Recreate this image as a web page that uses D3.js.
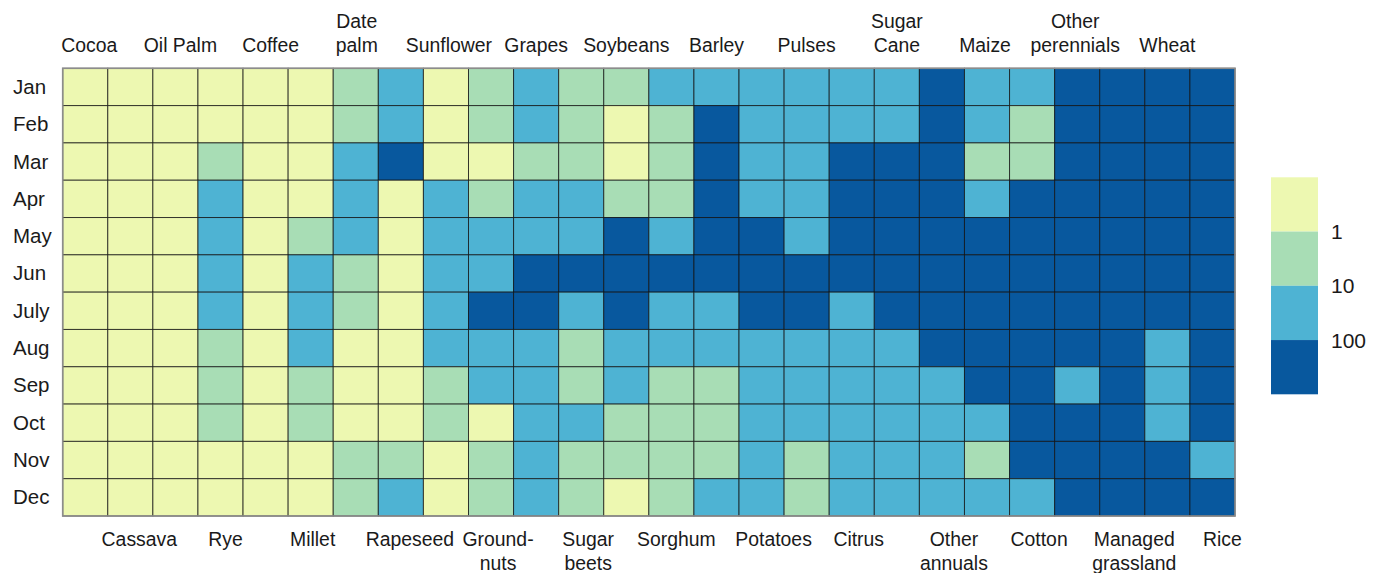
<!DOCTYPE html>
<html>
<head>
<meta charset="utf-8">
<script src="https://cdn.jsdelivr.net/npm/d3@7"></script>
<style>
  html, body { margin: 0; padding: 0; background: #fff; }
  svg { display: block; font-family: "Liberation Sans", Helvetica, Arial, sans-serif; }
</style>
</head>
<body>
<svg id="chart" width="1389" height="573"></svg>
<script>
// Month rows and crop columns of the heatmap
const months = ["Jan", "Feb", "Mar", "Apr", "May", "Jun", "July", "Aug", "Sep", "Oct", "Nov", "Dec"];
const crops = ["Cocoa", "Cassava", "Oil Palm", "Rye", "Coffee", "Millet", "Date palm", "Rapeseed",
  "Sunflower", "Ground-nuts", "Grapes", "Sugar beets", "Soybeans", "Sorghum", "Barley", "Potatoes",
  "Pulses", "Citrus", "Sugar Cane", "Other annuals", "Maize", "Cotton", "Other perennials",
  "Managed grassland", "Wheat", "Rice"];

// Class per crop for each month: 0 = below 1, 1 = 1–10, 2 = 10–100, 3 = above 100
const jan = [0,0,0,0,0,0,1,2,0, 1,2,1,1,2,2,2,2, 2,2,3,2,2,3,3,3,3];
const feb = [0,0,0,0,0,0,1,2,0, 1,2,1,0,1,3,2,2, 2,2,3,2,1,3,3,3,3];
const mar = [0,0,0,1,0,0,2,3,0, 0,1,1,0,1,3,2,2, 3,3,3,1,1,3,3,3,3];
const apr = [0,0,0,2,0,0,2,0,2, 1,2,2,1,1,3,2,2, 3,3,3,2,3,3,3,3,3];
const may = [0,0,0,2,0,1,2,0,2, 2,2,2,3,2,3,3,2, 3,3,3,3,3,3,3,3,3];
const jun = [0,0,0,2,0,2,1,0,2, 2,3,3,3,3,3,3,3, 3,3,3,3,3,3,3,3,3];
const jul = [0,0,0,2,0,2,1,0,2, 3,3,2,3,2,2,3,3, 2,3,3,3,3,3,3,3,3];
const aug = [0,0,0,1,0,2,0,0,2, 2,2,1,2,2,2,2,2, 2,2,3,3,3,3,3,2,3];
const sep = [0,0,0,1,0,1,0,0,1, 2,2,1,2,1,1,2,2, 2,2,2,3,3,2,3,2,3];
const oct = [0,0,0,1,0,1,0,0,1, 0,2,2,1,1,1,2,2, 2,2,2,2,3,3,3,2,3];
const nov = [0,0,0,0,0,0,1,1,0, 1,2,1,1,1,1,2,1, 2,2,2,1,3,3,3,3,2];
const dec = [0,0,0,0,0,0,1,2,0, 1,2,1,0,1,2,2,1, 2,2,2,2,2,3,3,3,3];

// Legend tick labels at the class boundaries
const legendTicks = ["1", "10", "100"];
const classColors = ["#edf8b1", "#a8ddb5", "#4eb3d3", "#08589e"];

const rows = [jan, feb, mar, apr, may, jun, jul, aug, sep, oct, nov, dec];
const cells = [];
rows.forEach((row, i) => row.forEach((v, j) => cells.push({ month: months[i], crop: crops[j], cls: v, col: j })));

const svg = d3.select("#chart");
const x = d3.scaleBand().domain(crops).range([62.7, 1235]);
const y = d3.scaleBand().domain(months).range([68.3, 516]);
const color = d3.scaleOrdinal().domain([0, 1, 2, 3]).range(classColors);

// Cells
svg.append("g").selectAll("rect").data(cells).join("rect")
  .attr("x", d => x(d.crop))
  .attr("y", d => y(d.month))
  .attr("width", x.bandwidth())
  .attr("height", y.bandwidth())
  .attr("fill", d => color(d.cls))
  .attr("stroke", "#111")
  .attr("stroke-opacity", 0.75)
  .attr("stroke-width", 1);

// Outer frame
svg.append("rect")
  .attr("x", x.range()[0]).attr("y", y.range()[0])
  .attr("width", x.range()[1] - x.range()[0])
  .attr("height", y.range()[1] - y.range()[0])
  .attr("fill", "none").attr("stroke", "#8c8c8c").attr("stroke-width", 1.6);

// Month labels
svg.append("g").selectAll("text").data(months).join("text")
  .attr("x", 13)
  .attr("y", d => y(d) + y.bandwidth() / 2 + 7)
  .attr("font-size", 20.5)
  .attr("fill", "#1a1a1a")
  .text(d => d);

// Crop labels alternate between top (even columns) and bottom (odd columns)
const splitLines = {
  "Date palm": ["Date", "palm"],
  "Sugar Cane": ["Sugar", "Cane"],
  "Other perennials": ["Other", "perennials"],
  "Ground-nuts": ["Ground-", "nuts"],
  "Sugar beets": ["Sugar", "beets"],
  "Other annuals": ["Other", "annuals"],
  "Managed grassland": ["Managed", "grassland"]
};
const nudge = {
  "Cocoa": 4, "Oil Palm": 5, "Coffee": 5, "Date palm": 1, "Sunflower": 3,
  "Cassava": 9, "Rye": 5, "Millet": 2, "Rapeseed": 9, "Ground-nuts": 7, "Sugar beets": 7,
  "Sorghum": 5, "Potatoes": 12, "Citrus": 7, "Other annuals": 12, "Cotton": 7,
  "Managed grassland": 12, "Rice": 10, "Maize": -2, "Other perennials": -2
};

const labels = svg.append("g").attr("font-size", 19.4).attr("fill", "#1a1a1a").attr("text-anchor", "middle");
crops.forEach((c, j) => {
  const lines = splitLines[c] || [c];
  const cx = x(c) + x.bandwidth() / 2 + (nudge[c] || 0);
  const t = labels.append("text").attr("x", cx);
  if (j % 2 === 0) {
    // top: last line sits on a common baseline
    lines.forEach((ln, k) => {
      t.append("tspan").attr("x", cx).attr("y", 52 - (lines.length - 1 - k) * 24).text(ln);
    });
  } else {
    lines.forEach((ln, k) => {
      t.append("tspan").attr("x", cx).attr("y", 546 + k * 24).text(ln);
    });
  }
});

// Legend
const ly = d3.scaleLinear().domain([0, 4]).range([177.3, 394.3]);
const legend = svg.append("g");
legend.selectAll("rect").data(classColors).join("rect")
  .attr("x", 1271).attr("width", 47)
  .attr("y", (d, i) => ly(i))
  .attr("height", ly(1) - ly(0))
  .attr("fill", d => d);
legend.selectAll("text").data(legendTicks).join("text")
  .attr("x", 1331)
  .attr("y", (d, i) => ly(i + 1) + 7.5)
  .attr("font-size", 21)
  .attr("fill", "#1a1a1a")
  .text(d => d);
</script>
</body>
</html>
